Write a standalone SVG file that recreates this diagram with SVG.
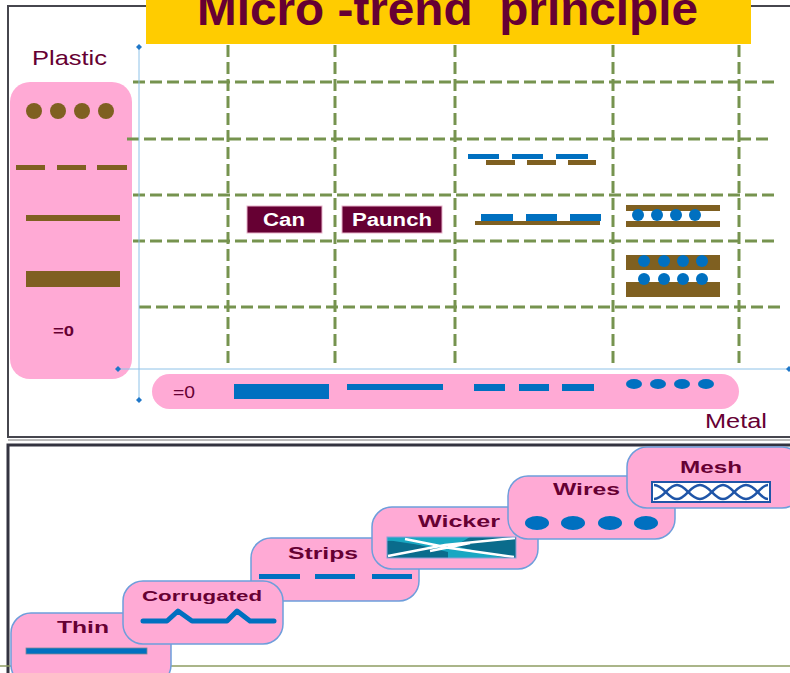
<svg xmlns="http://www.w3.org/2000/svg" width="790" height="673" viewBox="0 0 790 673">
<style>
.lbl{font-family:"Liberation Sans",Arial,sans-serif;fill:#660033}
.b{font-weight:bold}
.grid{stroke:#76934F;stroke-width:3;stroke-dasharray:12 5;fill:none}
.pink{fill:#FFAAD5}
.box{fill:#FFAAD5;stroke:#6E9EDB;stroke-width:1.5}
.brown{fill:#7F6021}
.blue{fill:#0070C0}
.axis{stroke:#8EC2E8;stroke-width:1;fill:none}
.dia{fill:#1F77C8}
.meshline{fill:none;stroke:#1F55A8;stroke-width:2.5;stroke-linejoin:round}
</style>
<rect width="790" height="673" fill="#FFFFFF"/>
<g id="frames">
<rect x="8" y="6" width="800" height="431" fill="none" stroke="#46464E" stroke-width="2"/>
<line x1="8" y1="440" x2="790" y2="440" stroke="#BBBBBB" stroke-width="2"/>
<rect x="8" y="445" width="800" height="240" fill="none" stroke="#333340" stroke-width="3"/>
<line x1="0" y1="666" x2="790" y2="666" stroke="#8E9C62" stroke-width="1.5"/>
</g>
<g id="plastic-panel">
<rect class="pink" x="10" y="82" width="122" height="297" rx="20"/>
<g class="brown">
<circle cx="34" cy="111" r="8"/><circle cx="58" cy="111" r="8"/><circle cx="82" cy="111" r="8"/><circle cx="106" cy="111" r="8"/>
<rect x="16" y="165" width="29" height="5"/><rect x="57" y="165" width="29" height="5"/><rect x="97" y="165" width="30" height="5"/>
<rect x="26" y="215" width="94" height="6"/>
<rect x="26" y="271" width="94" height="16"/>
</g>
<text class="lbl b" x="53" y="336" font-size="15" textLength="21" lengthAdjust="spacingAndGlyphs">=0</text>
</g>
<text class="lbl" x="32" y="65" font-size="21" textLength="75" lengthAdjust="spacingAndGlyphs">Plastic</text>
<g id="grid">
<line class="grid" x1="133" y1="82" x2="778" y2="82"/>
<line class="grid" x1="127" y1="139" x2="772" y2="139"/>
<line class="grid" x1="133" y1="195" x2="778" y2="195"/>
<line class="grid" x1="133" y1="241" x2="778" y2="241"/>
<line class="grid" x1="139" y1="307" x2="784" y2="307"/>
<line class="grid" x1="228" y1="45" x2="228" y2="364"/>
<line class="grid" x1="335" y1="45" x2="335" y2="368"/>
<line class="grid" x1="455" y1="45" x2="455" y2="368"/>
<line class="grid" x1="613" y1="45" x2="613" y2="368"/>
<line class="grid" x1="739" y1="45" x2="739" y2="368"/>
</g>
<g id="axes">
<line class="axis" x1="139" y1="47" x2="139" y2="400"/>
<line class="axis" x1="118" y1="369" x2="789" y2="369"/>
<path class="dia" d="M139 44 L142 47 L139 50 L136 47 Z"/>
<path class="dia" d="M139 397 L142 400 L139 403 L136 400 Z"/>
<path class="dia" d="M118 366 L121 369 L118 372 L115 369 Z"/>
<path class="dia" d="M789 366 L792 369 L789 372 L786 369 Z"/>
</g>
<g id="title">
<rect x="146" y="-2" width="605" height="46" fill="#FFCC00"/>
<text class="lbl b" x="197" y="25" font-size="46" textLength="501" lengthAdjust="spacingAndGlyphs" xml:space="preserve">Micro -trend  principle</text>
</g>
<g id="can">
<rect x="247" y="206" width="75" height="27" fill="#660033" stroke="#E8B4CC" stroke-width="1"/>
<text class="b" x="263" y="226" font-size="18" fill="#FFFFFF" font-family="Liberation Sans, Arial, sans-serif" textLength="42" lengthAdjust="spacingAndGlyphs">Can</text>
</g>
<g id="paunch">
<rect x="342" y="206" width="100" height="27" fill="#660033" stroke="#E8B4CC" stroke-width="1"/>
<text class="b" x="352" y="226" font-size="18" fill="#FFFFFF" font-family="Liberation Sans, Arial, sans-serif" textLength="80" lengthAdjust="spacingAndGlyphs">Paunch</text>
</g>
<g id="cell-strips-brown">
<rect class="blue" x="468" y="154" width="31" height="5"/><rect class="blue" x="512" y="154" width="31" height="5"/><rect class="blue" x="556" y="154" width="32" height="5"/>
<rect class="brown" x="486" y="160" width="29" height="5"/><rect class="brown" x="527" y="160" width="29" height="5"/><rect class="brown" x="568" y="160" width="28" height="5"/>
</g>
<g id="cell-strips-line">
<rect class="blue" x="481" y="214" width="32" height="7"/><rect class="blue" x="526" y="214" width="31" height="7"/><rect class="blue" x="570" y="214" width="31" height="7"/>
<rect class="brown" x="475" y="221" width="125" height="4"/>
</g>
<g id="cell-wires-thin">
<rect class="brown" x="626" y="205" width="94" height="6"/>
<rect class="brown" x="626" y="221" width="94" height="6"/>
<g class="blue"><circle cx="638" cy="215" r="6"/><circle cx="657" cy="215" r="6"/><circle cx="676" cy="215" r="6"/><circle cx="695" cy="215" r="6"/></g>
</g>
<g id="cell-wires-thick">
<rect class="brown" x="626" y="255" width="94" height="15"/>
<rect class="brown" x="626" y="282" width="94" height="15"/>
<g class="blue">
<circle cx="644" cy="261" r="6"/><circle cx="664" cy="261" r="6"/><circle cx="683" cy="261" r="6"/><circle cx="702" cy="261" r="6"/>
<circle cx="644" cy="279" r="6"/><circle cx="664" cy="279" r="6"/><circle cx="683" cy="279" r="6"/><circle cx="702" cy="279" r="6"/>
</g>
</g>
<g id="metal-panel">
<rect class="pink" x="152" y="374" width="587" height="35" rx="17.5"/>
<text class="lbl" x="173" y="398" font-size="17" textLength="22" lengthAdjust="spacingAndGlyphs">=0</text>
<rect class="blue" x="234" y="384" width="95" height="15"/>
<rect class="blue" x="347" y="384" width="96" height="6"/>
<rect class="blue" x="474" y="384" width="31" height="7"/><rect class="blue" x="519" y="384" width="30" height="7"/><rect class="blue" x="562" y="384" width="32" height="7"/>
<g class="blue"><ellipse cx="634" cy="384" rx="8" ry="5"/><ellipse cx="658" cy="384" rx="8" ry="5"/><ellipse cx="682" cy="384" rx="8" ry="5"/><ellipse cx="706" cy="384" rx="8" ry="5"/></g>
</g>
<text class="lbl" x="705" y="428" font-size="20" textLength="62" lengthAdjust="spacingAndGlyphs">Metal</text>
<g id="thin">
<rect class="box" x="11" y="613" width="160" height="72" rx="20"/>
<text class="lbl b" x="57" y="633" font-size="16" textLength="52" lengthAdjust="spacingAndGlyphs">Thin</text>
<rect x="26" y="648" width="121" height="6" fill="#0070C0" stroke="#7A8A9A" stroke-width="0.8"/>
</g>
<g id="strips">
<rect class="box" x="251" y="538" width="168" height="63" rx="20"/>
<text class="lbl b" x="288" y="559" font-size="16" textLength="70" lengthAdjust="spacingAndGlyphs">Strips</text>
<rect class="blue" x="259" y="574" width="41" height="5"/><rect class="blue" x="315" y="574" width="40" height="5"/><rect class="blue" x="372" y="574" width="40" height="5"/>
</g>
<g id="corrugated">
<rect class="box" x="123" y="581" width="160" height="63" rx="20"/>
<text class="lbl b" x="142" y="601" font-size="15" textLength="120" lengthAdjust="spacingAndGlyphs">Corrugated</text>
<polyline points="143,621 167,621 178,611 192,621 227,621 237,611 250,621 274,621" fill="none" stroke="#0070C0" stroke-width="5" stroke-linecap="round" stroke-linejoin="round"/>
</g>
<g id="wicker">
<rect class="box" x="372" y="507" width="166" height="62" rx="20"/>
<text class="lbl b" x="418" y="527" font-size="16" textLength="82" lengthAdjust="spacingAndGlyphs">Wicker</text>
<rect x="387" y="537" width="129" height="21" fill="#19A7C2"/>
<polygon points="387,541 400,540 448,552 448,558 387,558" fill="#0A6C8C"/>
<polygon points="387,537 425,537 448,545 440,548 387,540" fill="#19A7C2"/>
<polygon points="470,537 516,537 516,558 505,558 455,546" fill="#0A6C8C"/>
<polygon points="448,552 462,548 500,558 470,558" fill="#19A7C2"/>
<path d="M388 556 L445 545 L515 538 M405 539 L450 548 L514 557 M430 551 L470 543" stroke="#FFFFFF" stroke-width="2.5" fill="none"/>
<rect x="387" y="537" width="129" height="21" fill="none" stroke="#8AA0D8" stroke-width="1"/>
</g>
<g id="wires">
<rect class="box" x="508" y="476" width="167" height="63" rx="20"/>
<text class="lbl b" x="553" y="495" font-size="16" textLength="67" lengthAdjust="spacingAndGlyphs">Wires</text>
<g class="blue"><ellipse cx="537" cy="523" rx="12" ry="7"/><ellipse cx="573" cy="523" rx="12" ry="7"/><ellipse cx="610" cy="523" rx="12" ry="7"/><ellipse cx="646" cy="523" rx="12" ry="7"/></g>
</g>
<g id="mesh">
<rect class="box" x="627" y="447" width="175" height="61" rx="20"/>
<text class="lbl b" x="680" y="473" font-size="16" textLength="62" lengthAdjust="spacingAndGlyphs">Mesh</text>
<rect x="652" y="482" width="118" height="20" fill="#FFFFFF" stroke="#1F55A8" stroke-width="2"/>
<path class="meshline" d="M654 485 C664 485 668 499 677 499 C686 499 690 485 700 485 C710 485 714 499 723 499 C732 499 736 485 746 485 C756 485 760 499 768 499"/>
<path class="meshline" d="M654 499 C664 499 668 485 677 485 C686 485 690 499 700 499 C710 499 714 485 723 485 C732 485 736 499 746 499 C756 499 760 485 768 485"/>
</g>
</svg>
